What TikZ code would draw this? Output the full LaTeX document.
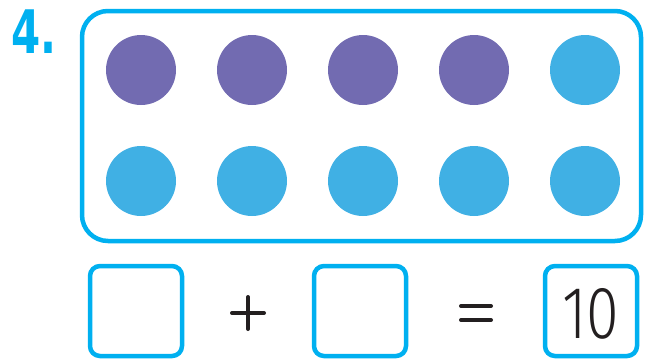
\documentclass[tikz,border=0pt]{standalone}
\usepackage{fontspec}
\setmainfont{DejaVu Sans}
\newfontfamily\thindigits{Fira Sans Light}
\definecolor{framecyan}{RGB}{0,176,240}
\definecolor{dotpurple}{RGB}{114,107,177}
\definecolor{dotblue}{RGB}{64,176,228}
\definecolor{ink}{RGB}{35,31,32}
\begin{document}
\begin{tikzpicture}[x=1pt,y=-1pt,
  frame/.style={draw=framecyan,line width=4.5pt,rounded corners=26pt},
  answerbox/.style={draw=framecyan,line width=4.5pt,rounded corners=10pt,minimum width=92pt,minimum height=90pt,inner sep=0pt},
  purpledot/.style={circle,fill=dotpurple,minimum size=70pt,inner sep=0pt},
  bluedot/.style={circle,fill=dotblue,minimum size=70pt,inner sep=0pt},
  opsign/.style={draw=ink,line width=4pt,line cap=round}]
\useasboundingbox (0,0) rectangle (645,360);
\node[anchor=base west,text=framecyan,inner sep=0pt,xscale=0.7,font=\bfseries\fontsize{60}{60}\selectfont] (num) at (11,53) {4.};
\draw[frame] (82,11) rectangle (641,241);
\node[purpledot] (d1) at (141,70) {};
\node[purpledot] (d2) at (252,70) {};
\node[purpledot] (d3) at (363,70) {};
\node[purpledot] (d4) at (474,70) {};
\node[bluedot] (d5) at (585,70) {};
\node[bluedot] (d6) at (141,181) {};
\node[bluedot] (d7) at (252,181) {};
\node[bluedot] (d8) at (363,181) {};
\node[bluedot] (d9) at (474,181) {};
\node[bluedot] (d10) at (585,181) {};
\node[answerbox] (b1) at (136,311) {};
\node[answerbox] (b2) at (360,311) {};
\node[answerbox] (b3) at (591,311) {};
\coordinate (plusc) at (248,313);
\draw[opsign] ([xshift=-16pt]plusc) -- ([xshift=16pt]plusc);
\draw[opsign] ([yshift=-16pt]plusc) -- ([yshift=16pt]plusc);
\coordinate (eqc) at (476,313);
\draw[opsign] ([xshift=-15pt,yshift=-7pt]eqc) -- ([xshift=15pt,yshift=-7pt]eqc);
\draw[opsign] ([xshift=-15pt,yshift=7pt]eqc) -- ([xshift=15pt,yshift=7pt]eqc);
\node[anchor=base,text=ink,inner sep=0pt,xscale=0.8,font=\thindigits\fontsize{74}{74}\selectfont] (ten) at (591,338) {10};
\end{tikzpicture}
\end{document}
